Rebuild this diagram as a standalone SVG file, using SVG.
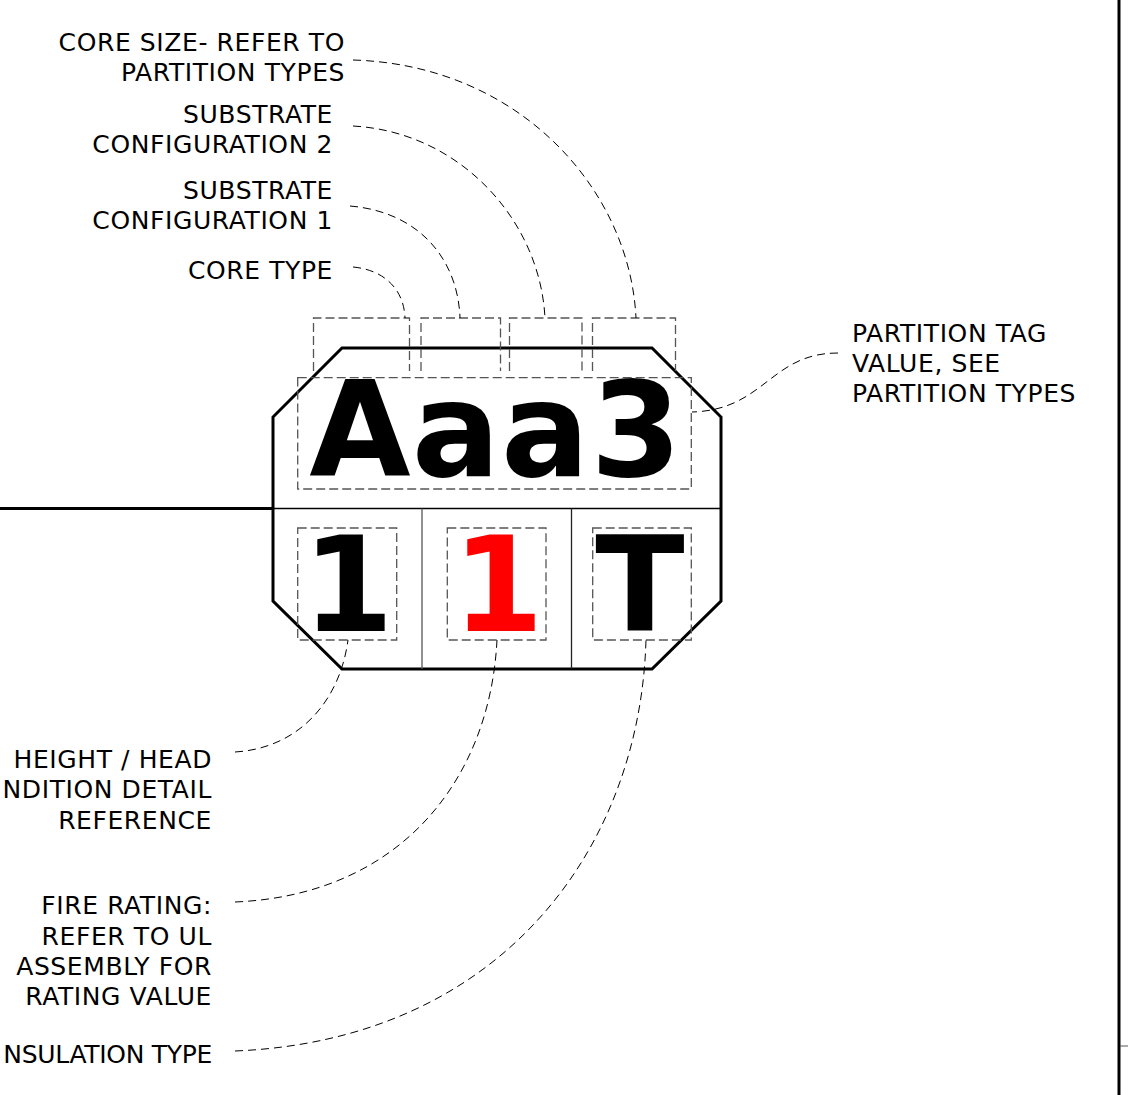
<svg xmlns="http://www.w3.org/2000/svg" width="1128" height="1095" viewBox="0 0 1128 1095">
<style>
.lbl{font-family:"DejaVu Sans","Liberation Sans",sans-serif;font-size:25px;fill:#000;letter-spacing:0.6px}
.big{font-family:"DejaVu Sans","Liberation Sans",sans-serif;font-size:131px;font-weight:bold;text-anchor:middle}
.box{fill:none;stroke:#555;stroke-width:1.3;stroke-dasharray:9 4}
.lead{fill:none;stroke:#000;stroke-width:1;stroke-dasharray:8 5}
.end{text-anchor:end}
</style>
<rect width="1128" height="1095" fill="#fff"/>
<g id="frame">
<line x1="1119" y1="0" x2="1119" y2="1095" stroke="#000" stroke-width="3"/>
<line x1="1120" y1="1046" x2="1128" y2="1046" stroke="#555" stroke-width="1"/>
<line x1="0" y1="508.5" x2="273" y2="508.5" stroke="#000" stroke-width="2.8"/>
</g>
<g id="tag">
<polygon points="342,348 652,348 721,417 721,601 652,669 342,669 273,601 273,417" fill="#fff" stroke="#000" stroke-width="3"/>
<line x1="273" y1="508.5" x2="721" y2="508.5" stroke="#000" stroke-width="1.3"/>
<line x1="422" y1="508.5" x2="422" y2="669" stroke="#555" stroke-width="1.3"/>
<line x1="571.5" y1="508.5" x2="571.5" y2="669" stroke="#222" stroke-width="1.3"/>
<text class="big" x="496" y="476" letter-spacing="1">Aaa3</text>
<text class="big" x="348" y="631">1</text>
<text class="big" x="498" y="631" fill="#f00">1</text>
<text class="big" x="640" y="631">T</text>
</g>
<g id="boxes">
<path class="box" d="M313.5 371V318H409.5V371"/>
<path class="box" d="M421 371V318H500.5V371"/>
<path class="box" d="M509.5 371V318H582V371"/>
<path class="box" d="M592.5 371V318H675.5V371"/>
<rect class="box" x="297.7" y="377.7" width="393.6" height="111.3"/>
<rect class="box" x="297.7" y="528" width="99" height="112"/>
<rect class="box" x="447.3" y="528" width="98.7" height="112"/>
<rect class="box" x="592.7" y="528" width="98.6" height="112"/>
</g>
<g id="connectors">
<path class="lead" d="M353 267C385 270 404 290 405 318"/>
<path class="lead" d="M350 206C420 212 458 260 460 318"/>
<path class="lead" d="M353 126C460 132 540 220 545 318"/>
<path class="lead" d="M353 60C520 65 630 190 636 318"/>
<path class="lead" d="M838 353C770 353 765 410 692 412"/>
<path class="lead" d="M235 752C300 748 340 700 348 640"/>
<path class="lead" d="M235 902C400 895 490 780 497 640"/>
<path class="lead" d="M235 1051C500 1040 640 850 646 640"/>
</g>
<g id="label-core-size">
<text class="lbl end" x="345" y="51">CORE SIZE- REFER TO</text>
<text class="lbl end" x="345" y="81">PARTITION TYPES</text>
</g>
<g id="label-substrate-2">
<text class="lbl end" x="333" y="123">SUBSTRATE</text>
<text class="lbl end" x="333" y="153">CONFIGURATION 2</text>
</g>
<g id="label-substrate-1">
<text class="lbl end" x="333" y="199">SUBSTRATE</text>
<text class="lbl end" x="333" y="229">CONFIGURATION 1</text>
</g>
<g id="label-core-type">
<text class="lbl end" x="333" y="279">CORE TYPE</text>
</g>
<g id="label-partition-tag">
<text class="lbl" x="852" y="342">PARTITION TAG</text>
<text class="lbl" x="852" y="372">VALUE, SEE</text>
<text class="lbl" x="852" y="402">PARTITION TYPES</text>
</g>
<g id="label-height">
<text class="lbl end" x="212" y="768">HEIGHT / HEAD</text>
<text class="lbl end" x="212" y="798">NDITION DETAIL</text>
<text class="lbl end" x="212" y="829">REFERENCE</text>
</g>
<g id="label-fire">
<text class="lbl end" x="212" y="914">FIRE RATING:</text>
<text class="lbl end" x="212" y="945">REFER TO UL</text>
<text class="lbl end" x="212" y="975">ASSEMBLY FOR</text>
<text class="lbl end" x="212" y="1005">RATING VALUE</text>
</g>
<g id="label-insulation">
<text class="lbl end" x="212" y="1063" style="letter-spacing:-0.3px">NSULATION TYPE</text>
</g>
</svg>
